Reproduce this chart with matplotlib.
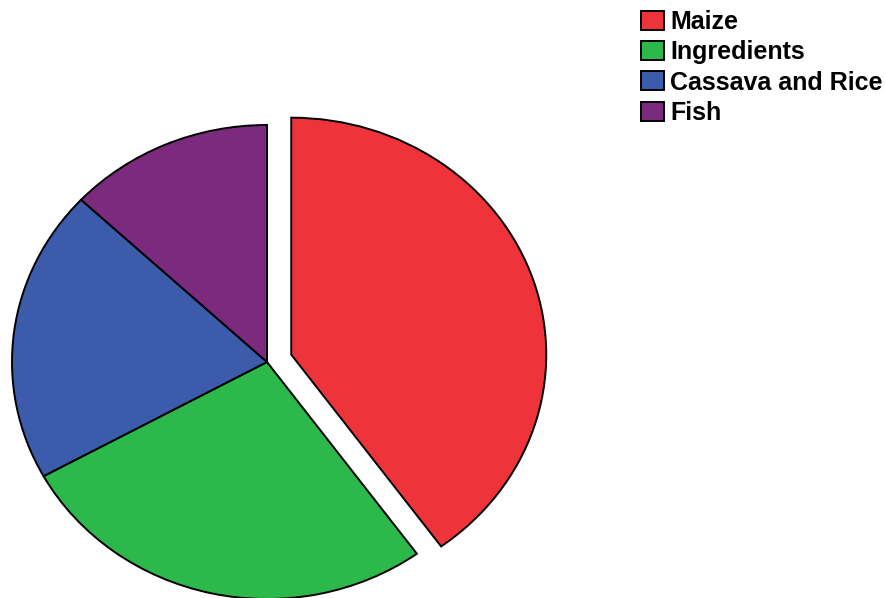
import matplotlib
matplotlib.use("Agg")
import matplotlib.pyplot as plt

# ── data ──────────────────────────────────────────────────────────────────────
labels = ["Maize", "Ingredients", "Cassava and Rice", "Fish"]
shares = [40, 27, 20, 13]
colors = ["#EE333B", "#2DB84B", "#3D5BAB", "#7B2A7E"]
explode = [0.1, 0, 0, 0]

W, H = 885, 598
CX, CY, RX, RY = 267, 362, 255, 237   # pie centre / radii in pixels

fig = plt.figure(figsize=(W / 100, H / 100), dpi=100)
ax = fig.add_axes([0, 0, 1, 1])

wedges, _ = ax.pie(shares, colors=colors, explode=explode, startangle=90,
                   counterclock=False, radius=1.0,
                   wedgeprops=dict(edgecolor="black", linewidth=1.4))

# slightly squashed pie: map pixel box onto data units
ax.set_aspect("auto")
ax.set_xlim(-CX / RX, (W - CX) / RX)
ax.set_ylim((CY - H) / RY, CY / RY)
ax.axis("off")

leg = fig.legend(wedges, labels, loc="upper left",
                 bbox_to_anchor=(641 / W, 1 - 10 / H), frameon=False,
                 prop=dict(family="Liberation Sans", weight="bold", size=18),
                 handlelength=0.92, handleheight=0.8, handletextpad=0.24,
                 labelspacing=0.25, borderpad=0, borderaxespad=0)
for h in leg.legend_handles:
    h.set_edgecolor("black")
    h.set_linewidth(1.4)

fig.savefig("out.png", dpi=100)
